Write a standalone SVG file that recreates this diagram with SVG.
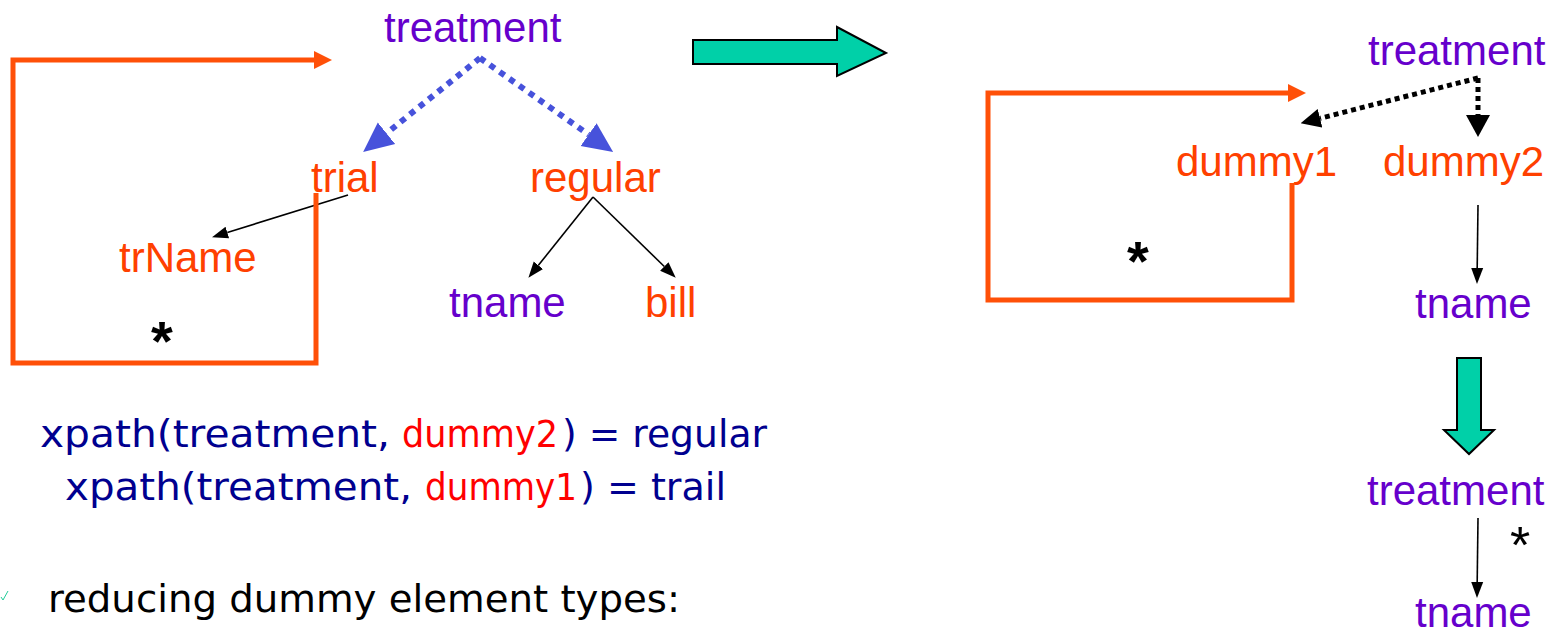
<svg xmlns="http://www.w3.org/2000/svg" width="1561" height="635" viewBox="0 0 1561 635">
<style>
.n{font-family:"Liberation Sans",Arial,sans-serif;font-size:42px}
.p{fill:#6600CC}
.o{fill:#FF4000}
.box{fill:none;stroke:#FF5008;stroke-width:5;stroke-linejoin:miter}
.boxhead{fill:#FF5008}
.blk{stroke:#000;stroke-width:1.6;fill:none}
.bdot{stroke:#4752DB;stroke-width:6;stroke-dasharray:6 6;fill:none}
.kdot{stroke:#000;stroke-width:5;stroke-dasharray:5 4;fill:none}
.star{font-family:"Liberation Sans",Arial,sans-serif;font-size:56px;fill:#000;text-anchor:middle}
.cs{font-family:"DejaVu Sans",sans-serif;font-size:37px}
.nv{fill:#00008F}
.rd{fill:#FF0000}
.big{fill:#00D0A8;stroke:#000;stroke-width:2}
</style>
<defs>
<marker id="hb" markerUnits="userSpaceOnUse" markerWidth="30" markerHeight="30" refX="0" refY="12" orient="auto" viewBox="0 0 26 24"><path d="M0,0 L26,12 L0,24 z" fill="#4752DB"/></marker>
<marker id="hk" markerUnits="userSpaceOnUse" markerWidth="16" markerHeight="14" refX="0" refY="6" orient="auto" viewBox="0 0 16 12"><path d="M0,0 L16,6 L0,12 z" fill="#000"/></marker>
<marker id="hkd" markerUnits="userSpaceOnUse" markerWidth="20" markerHeight="20" refX="0" refY="9" orient="auto" viewBox="0 0 19 18"><path d="M0,0 L19,9 L0,18 z" fill="#000"/></marker>
<marker id="hkd2" markerUnits="userSpaceOnUse" markerWidth="24" markerHeight="24" refX="0" refY="12" orient="auto" viewBox="0 0 22 24"><path d="M0,0 L22,12 L0,24 z" fill="#000"/></marker>
</defs>

<g id="connectors">
<line class="bdot" x1="480" y1="58" x2="386.5" y2="133.3" marker-end="url(#hb)"/>
<line class="bdot" x1="480" y1="58" x2="588.6" y2="134.6" marker-end="url(#hb)"/>
<line class="blk" x1="348" y1="195" x2="227.3" y2="232.5" marker-end="url(#hk)"/>
<line class="blk" x1="593" y1="197" x2="538.4" y2="265.3" marker-end="url(#hk)"/>
<line class="blk" x1="593" y1="197" x2="664.3" y2="266.5" marker-end="url(#hk)"/>
<line class="kdot" x1="1478" y1="78" x2="1320" y2="118.3" marker-end="url(#hkd)"/>
<line class="kdot" x1="1478" y1="78" x2="1478" y2="115" marker-end="url(#hkd2)"/>
<line class="blk" x1="1478" y1="205" x2="1477.2" y2="268" marker-end="url(#hk)"/>
<line class="blk" x1="1478" y1="518" x2="1477.2" y2="582" marker-end="url(#hk)"/>
</g>

<g id="box-left">
<path class="box" d="M316,193 L316,363 L13,363 L13,60 L316,60"/>
<polygon class="boxhead" points="314,51 332,60 314,69"/>
<text class="star" font-weight="bold" x="162" y="360">*</text>
</g>
<g id="box-right">
<path class="box" d="M1292,183 L1292,300 L988,300 L988,93 L1290,93"/>
<polygon class="boxhead" points="1288,84 1306,93 1288,102"/>
<text class="star" font-weight="bold" x="1138" y="280">*</text>
</g>

<g id="big-arrow-right">
<polygon class="big" points="693,40 837,40 837,27 886,53 837,76 837,64 693,64"/>
</g>
<g id="big-arrow-down">
<polygon class="big" points="1457,358 1481,358 1481,430 1494,430 1469,454 1444,430 1457,430"/>
</g>

<g id="n-treatment-l"><text class="n p" x="384" y="42">treatment</text></g>
<g id="n-trial"><text class="n o" x="311" y="192">trial</text></g>
<g id="n-regular"><text class="n o" x="530" y="192">regular</text></g>
<g id="n-trName"><text class="n o" x="119" y="272">trName</text></g>
<g id="n-tname-l"><text class="n p" x="449" y="317">tname</text></g>
<g id="n-bill"><text class="n o" x="645" y="317">bill</text></g>

<g id="n-treatment-r"><text class="n p" x="1368" y="65">treatment</text></g>
<g id="n-dummy1"><text class="n o" x="1176" y="176">dummy1</text></g>
<g id="n-dummy2"><text class="n o" x="1383" y="176">dummy2</text></g>
<g id="n-tname-r"><text class="n p" x="1415" y="318">tname</text></g>

<g id="n-treatment-b"><text class="n p" x="1367" y="505">treatment</text></g>
<g id="n-tname-b"><text class="n p" x="1415" y="627">tname</text></g>
<text class="star" style="font-size:52px" x="1520" y="563">*</text>

<g id="formulas">
<text class="cs nv" x="40" y="447" textLength="350" lengthAdjust="spacingAndGlyphs">xpath(treatment,</text>
<text class="cs rd" x="402" y="447" textLength="156" lengthAdjust="spacingAndGlyphs">dummy2</text>
<text class="cs nv" x="562" y="447" textLength="205" lengthAdjust="spacingAndGlyphs">) = regular</text>
<text class="cs nv" x="65" y="500" textLength="347" lengthAdjust="spacingAndGlyphs">xpath(treatment,</text>
<text class="cs rd" x="425" y="500" textLength="152" lengthAdjust="spacingAndGlyphs">dummy1</text>
<text class="cs nv" x="580" y="500" textLength="146" lengthAdjust="spacingAndGlyphs">) = trail</text>
<text class="cs" fill="#000" x="48" y="612" textLength="632" lengthAdjust="spacingAndGlyphs">reducing dummy element types:</text>
<path d="M1,597 L3,600 L8,591" stroke="#22CC99" stroke-width="1" fill="none"/>
</g>
</svg>
